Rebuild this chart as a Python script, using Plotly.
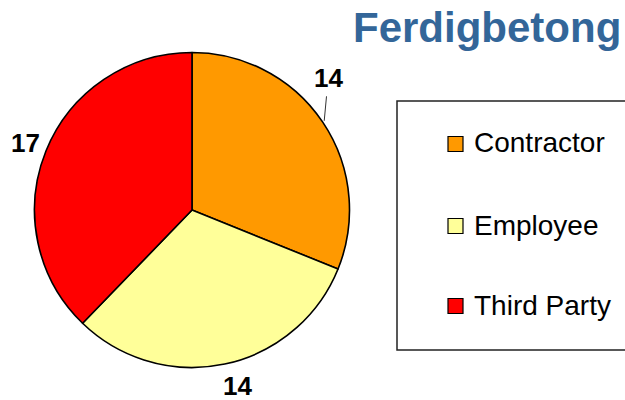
import math
import plotly.graph_objects as go

categories = ["Contractor", "Employee", "Third Party"]
values = [14, 14, 17]
colors = ["#FF9900", "#FFFF99", "#FF0000"]
title_text = "Ferdigbetong"

W, H = 625, 400
def px(x): return x / W
def py(y): return 1 - y / H

FONT = "Liberation Sans, Arial, sans-serif"

# pie geometry (pixels)
CX, CY, R = 192, 210, 157.5

fig = go.Figure()
fig.add_trace(go.Pie(
    labels=categories, values=values, sort=False, direction="clockwise", rotation=0,
    marker=dict(colors=colors, line=dict(color="black", width=1.6)),
    textinfo="none",
    domain=dict(x=[px(CX - R), px(CX + R)], y=[py(CY + R), py(CY - R)]),
    showlegend=False, hoverinfo="label+value",
))

shapes = []
annotations = []

# value labels placed around the pie from the data (clockwise from 12 o'clock)
total = sum(values)
cum = 0
for i, v in enumerate(values):
    mid = (cum + v / 2) / total * 2 * math.pi
    cum += v
    sx, cy_ = math.sin(mid), math.cos(mid)
    if i == 0:
        # label pulled out with a leader line
        ex, ey = CX + (R + 2) * sx, CY - (R + 2) * cy_
        annotations.append(dict(text="<b>%d</b>" % v, xref="paper", yref="paper",
                                x=px(ex), y=py(ey), ax=4, ay=-43, axref="pixel", ayref="pixel",
                                showarrow=True, arrowhead=0, arrowwidth=1, arrowcolor="#333333",
                                standoff=0, startstandoff=2,
                                font=dict(family=FONT, size=26, color="black")))
    else:
        lx, ly = CX + 180 * sx, CY - 180 * cy_
        if i == 1:
            lx += 8
        annotations.append(dict(text="<b>%d</b>" % v, xref="paper", yref="paper",
                                x=px(lx), y=py(ly), xanchor="center", yanchor="middle",
                                showarrow=False,
                                font=dict(family=FONT, size=26, color="black")))

# legend box
shapes.append(dict(type="rect", xref="paper", yref="paper",
                   x0=px(397), x1=px(640), y0=py(350), y1=py(101),
                   line=dict(color="#222222", width=1.5), fillcolor="white", layer="below"))
row_y = [144, 226, 306]
for cat, col, ry in zip(categories, colors, row_y):
    shapes.append(dict(type="rect", xref="paper", yref="paper",
                       x0=px(448), x1=px(463), y0=py(ry + 7.5), y1=py(ry - 7.5),
                       line=dict(color="black", width=1.2), fillcolor=col))
    annotations.append(dict(text=cat, xref="paper", yref="paper", x=px(472), y=py(ry - 1),
                            xanchor="left", yanchor="middle", showarrow=False,
                            font=dict(family=FONT, size=28, color="black")))

annotations.append(dict(text="<b>" + title_text + "</b>", xref="paper", yref="paper",
                        x=px(623), y=py(27), xanchor="right", yanchor="middle", showarrow=False,
                        font=dict(family=FONT, size=42, color="#336699")))

fig.update_layout(
    width=W, height=H, margin=dict(l=0, r=0, t=0, b=0),
    paper_bgcolor="white", plot_bgcolor="white",
    shapes=shapes, annotations=annotations,
)
fig.write_html("out.html", config={"displayModeBar": False},
               post_script="document.body.style.margin='0';document.body.style.overflow='hidden';")
